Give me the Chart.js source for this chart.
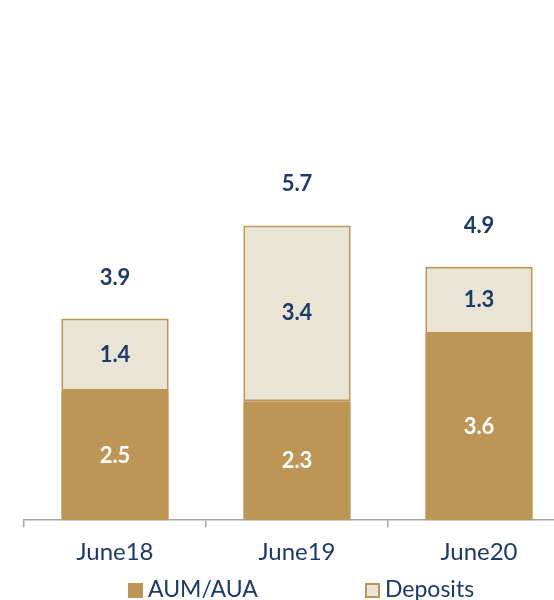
<!DOCTYPE html>
<html>
<head>
<meta charset="utf-8">
<script src="https://cdn.jsdelivr.net/npm/chart.js@4.4.0/dist/chart.umd.min.js"></script>
<style>
  html, body { margin: 0; padding: 0; background: #fff; overflow: hidden; }
  #wrap { position: absolute; left: 0; top: 0; width: 594px; height: 578px; }
  .legend { position: absolute; top: 574px; font: 23px Lato, sans-serif; color: #1b3a6b; white-space: nowrap; }
  .legend span.box { display: inline-block; width: 15px; height: 15px; margin-right: 5px; vertical-align: -1px; box-sizing: border-box; }
</style>
</head>
<body>
<div id="wrap"><canvas id="myChart"></canvas></div>
<div class="legend" style="left:128px"><span class="box" style="background:#bd9656"></span>AUM/AUA</div>
<div class="legend" style="left:365px"><span class="box" style="background:#e9e4d3;border:2px solid #bd9656"></span>Deposits</div>
<script>
// Sample data
const periods = ['June18', 'June19', 'June20'];
const aum = [2.5, 2.3, 3.6];
const deposits = [1.4, 3.4, 1.3];
const totals = [3.9, 5.7, 4.9];

const navy = '#1b3a6b';
const tan = '#bd9656';
const beige = '#e9e4d3';

// draws values inside segments and totals above the bars
const valueLabels = {
    id: 'valueLabels',
    afterDatasetsDraw(chart) {
        const ctx = chart.ctx;
        ctx.save();
        ctx.textAlign = 'center';
        ctx.textBaseline = 'middle';
        ctx.font = 'bold 22px Lato, sans-serif';
        chart.data.datasets.forEach((ds, i) => {
            const meta = chart.getDatasetMeta(i);
            meta.data.forEach((bar, j) => {
                ctx.fillStyle = i === 0 ? '#ffffff' : navy;
                ctx.fillText(ds.data[j].toFixed(1), bar.x, (bar.y + bar.base) / 2);
            });
        });
        const top = chart.getDatasetMeta(1);
        ctx.fillStyle = navy;
        top.data.forEach((bar, j) => {
            ctx.fillText(totals[j].toFixed(1), bar.x, bar.y - 41);
        });
        ctx.restore();
    }
};

const ctx = document.getElementById('myChart').getContext('2d');

const myChart = new Chart(ctx, {
    type: 'bar',
    data: {
        labels: periods,
        datasets: [
            {
                label: 'AUM/AUA',
                data: aum,
                backgroundColor: tan,
                borderWidth: 0
            },
            {
                label: 'Deposits',
                data: deposits,
                backgroundColor: beige,
                borderColor: tan,
                borderWidth: 2,
                borderSkipped: false
            }
        ]
    },
    options: {
        responsive: true,
        maintainAspectRatio: false,
        animation: false,
        layout: { padding: { left: 24, right: 24, top: 3, bottom: 0 } },
        datasets: {
            bar: { barPercentage: 0.59, categoryPercentage: 1 }
        },
        scales: {
            x: {
                stacked: true,
                border: { display: true, color: '#a6a6a6', width: 1.5 },
                grid: {
                    offset: true,
                    drawOnChartArea: false,
                    drawTicks: true,
                    tickLength: 7,
                    color: '#a6a6a6',
                    lineWidth: 1.5
                },
                ticks: {
                    color: navy,
                    padding: 11,
                    font: { family: 'Lato, sans-serif', size: 24 }
                }
            },
            y: {
                stacked: true,
                display: false,
                min: 0,
                max: 10
            }
        },
        plugins: {
            legend: { display: false },
            tooltip: { enabled: false }
        }
    },
    plugins: [valueLabels]
});
</script>
</body>
</html>
